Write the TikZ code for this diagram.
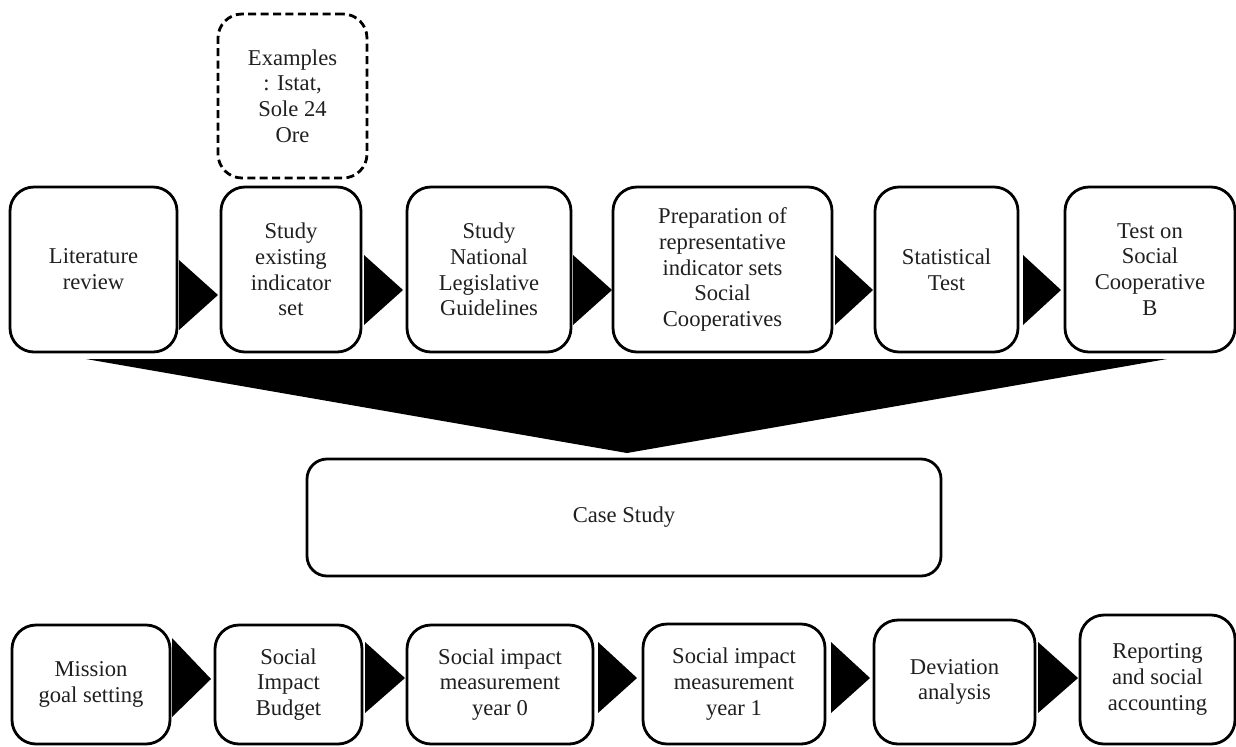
\documentclass[tikz,border=0pt]{standalone}
\usepackage{fontspec}
\setmainfont{Liberation Serif}
\begin{document}
\begin{tikzpicture}[x=0.5pt,y=-0.5pt,
  box/.style={draw=black, line width=1.4pt, rounded corners=12pt, align=center, inner sep=0pt,
    font=\fontsize{11.3}{12.9}\selectfont, text=black!88},
  exbox/.style={box, dashed, dash pattern=on 4pt off 2.2pt},
  tri/.style={fill=black, draw=none}]
\useasboundingbox (0,0) rectangle (1236,746);
% top row
\node[exbox, minimum width=74.5pt, minimum height=82pt] (ex) at (292.5,96) {Examples\\: Istat,\\Sole 24\\Ore};
\node[box, minimum width=83.5pt, minimum height=82.5pt] (lit) at (93.5,269.5) {Literature\\review};
\node[box, minimum width=70pt, minimum height=82.5pt] (sei) at (291,269.5) {Study\\existing\\indicator\\set};
\node[box, minimum width=82pt, minimum height=82.5pt] (snl) at (489,269.5) {Study\\National\\Legislative\\Guidelines};
\node[box, minimum width=109.5pt, minimum height=82.5pt] (prep) at (722.5,269.5) {Preparation of\\representative\\indicator sets\\Social\\Cooperatives};
\node[box, minimum width=71.5pt, minimum height=82.5pt] (stat) at (946.5,269.5) {Statistical\\Test};
\node[box, minimum width=85pt, minimum height=82.5pt] (test) at (1150,269.5) {Test on\\Social\\Cooperative\\B};
% arrows top
\fill[tri] (179,260) -- (218,295) -- (179,330) -- cycle;
\fill[tri] (364,255) -- (403,290) -- (364,325) -- cycle;
\fill[tri] (573,255) -- (612,290) -- (573,325) -- cycle;
\fill[tri] (835,255) -- (873,290) -- (835,325) -- cycle;
\fill[tri] (1023,255) -- (1061,290) -- (1023,325) -- cycle;
% funnel
\fill[tri] (86,359) -- (1167,359) -- (627,453) -- cycle;
% case study
\node[box, rounded corners=10pt, minimum width=317pt, minimum height=58.5pt] (case) at (624,517.5) {Case Study};
% bottom row
\node[box, minimum width=79pt, minimum height=59.5pt] (mis) at (91,684.5) {Mission\\goal setting};
\node[box, minimum width=73.5pt, minimum height=59.5pt] (sib) at (288.5,684.5) {Social\\Impact\\Budget};
\node[box, minimum width=93pt, minimum height=59.5pt] (sim0) at (500,684.5) {Social impact\\measurement\\year 0};
\node[box, minimum width=91pt, minimum height=60pt] (sim1) at (734,684) {Social impact\\measurement\\year 1};
\node[box, minimum width=80.5pt, minimum height=62pt] (dev) at (954.5,682) {Deviation\\analysis};
\node[box, minimum width=77.5pt, minimum height=64.5pt] (rep) at (1157.5,679.5) {Reporting\\and social\\accounting};
% arrows bottom
\fill[tri] (172,638) -- (211,679) -- (172,717) -- cycle;
\fill[tri] (365,642) -- (405,678) -- (365,713) -- cycle;
\fill[tri] (598,642) -- (637,678) -- (598,713) -- cycle;
\fill[tri] (831,642) -- (870,678) -- (831,713) -- cycle;
\fill[tri] (1038,642) -- (1078,678) -- (1038,713) -- cycle;
\end{tikzpicture}
\end{document}
